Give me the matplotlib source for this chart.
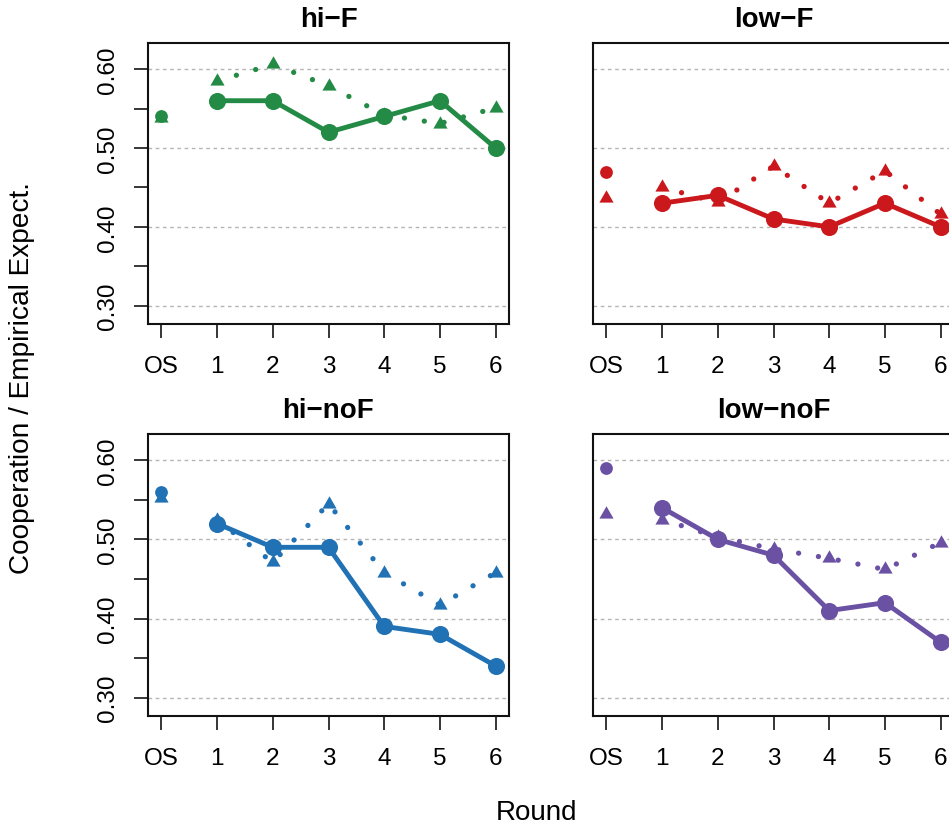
import numpy as np
import matplotlib.pyplot as plt

plt.rcParams['font.family'] = ['Liberation Sans', 'DejaVu Sans']

round_labels = ['OS', '1', '2', '3', '4', '5', '6']
panel_titles = ['hi\u2212F', 'low\u2212F', 'hi\u2212noF', 'low\u2212noF']
panel_colors = ['#238B45', '#CB181D', '#2171B5', '#6A51A3']

# observed cooperation (circles, solid line)
coop_hi_F = [0.54, 0.56, 0.56, 0.52, 0.54, 0.56, 0.50]
coop_low_F = [0.47, 0.43, 0.44, 0.41, 0.40, 0.43, 0.40]
coop_hi_noF = [0.56, 0.52, 0.49, 0.49, 0.39, 0.38, 0.34]
coop_low_noF = [0.59, 0.54, 0.50, 0.48, 0.41, 0.42, 0.37]

# empirical expectations (triangles, dotted line)
expect_hi_F = [0.538, 0.585, 0.606, 0.579, 0.542, 0.531, 0.551]
expect_low_F = [0.436, 0.450, 0.431, 0.477, 0.430, 0.471, 0.416]
expect_hi_noF = [0.552, 0.524, 0.471, 0.545, 0.458, 0.417, 0.458]
expect_low_noF = [0.532, 0.525, 0.503, 0.488, 0.476, 0.462, 0.496]

coop_all = [coop_hi_F, coop_low_F, coop_hi_noF, coop_low_noF]
expect_all = [expect_hi_F, expect_low_F, expect_hi_noF, expect_low_noF]

# equilateral triangle like R's pch 17
TRI = [(-1, -0.577), (1, -0.577), (0, 1.155), (-1, -0.577)]


def draw_panel(ax, title, color, coop, expect, show_y):
    x = np.arange(len(round_labels))
    for g in [0.3, 0.4, 0.5, 0.6]:
        ax.axhline(g, color='#B4B4B4', lw=1.0, ls=(0, (2.6, 2.6)), zorder=0)

    # expectations
    ax.plot(x[1:], expect[1:], color=color, lw=3.8, ls=(0, (0.01, 3.8)),
            dash_capstyle='round', zorder=1)
    ax.plot(x, expect, ls='none', marker=TRI, ms=11.8, color=color,
            mec='none', zorder=2)

    # cooperation
    ax.plot(x[1:], coop[1:], color=color, lw=3.5, marker='o', ms=12.3,
            mec='none', zorder=3)
    ax.plot(x[0], coop[0], ls='none', marker='o', ms=9.2, color=color,
            mec='none', zorder=3)

    ax.set_xlim(-0.24, 6.24)
    ax.set_ylim(0.2768, 0.6332)
    ax.set_xticks(x)
    ax.set_xticklabels(round_labels, fontsize=17.5)
    yt = [0.30, 0.35, 0.40, 0.45, 0.50, 0.55, 0.60]
    ax.set_yticks(yt)
    if show_y:
        ax.set_yticklabels(['0.30', '', '0.40', '', '0.50', '', '0.60'],
                           fontsize=17.5, rotation=90, va='center')
    else:
        ax.tick_params(axis='y', left=False, labelleft=False)
    ax.tick_params(axis='x', length=10, width=1.1, pad=12)
    ax.tick_params(axis='y', length=10, width=1.1, pad=11)
    for s in ax.spines.values():
        s.set_linewidth(1.5)
        s.set_color('#111111')
    ax.set_title(title, fontsize=20, fontweight='bold', pad=12)


fig = plt.figure(figsize=(9.49, 8.29), dpi=100)
w = 361 / 949
h_top = 281 / 829
h_bot = 282 / 829
positions = [
    [148 / 949, 1 - 325 / 829, w, h_top],
    [593 / 949, 1 - 325 / 829, w, h_top],
    [148 / 949, 1 - 717 / 829, w, h_bot],
    [593 / 949, 1 - 717 / 829, w, h_bot],
]

for i in range(4):
    ax = fig.add_axes(positions[i])
    draw_panel(ax, panel_titles[i], panel_colors[i], coop_all[i], expect_all[i],
               show_y=(i % 2 == 0))

fig.text(22 / 949, 1 - 378 / 829, 'Cooperation / Empirical Expect.',
         rotation=90, ha='center', va='center', fontsize=20.2)
fig.text(537 / 949, 1 - 813 / 829, 'Round', ha='center', va='center', fontsize=20)

fig.savefig('out.png', dpi=100)
